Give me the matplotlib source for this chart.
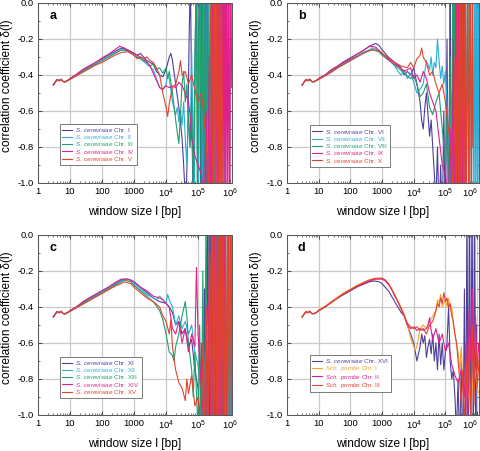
import matplotlib
matplotlib.use('Agg')
import matplotlib.pyplot as plt
import matplotlib.transforms as mtrans
from matplotlib.ticker import FixedLocator, LogLocator, NullFormatter, MultipleLocator

plt.rcParams['font.family'] = ['Liberation Sans', 'DejaVu Sans']
plt.rcParams['mathtext.fontset'] = 'custom'
plt.rcParams['mathtext.rm'] = 'Liberation Sans'
plt.rcParams['mathtext.it'] = 'Liberation Sans:italic'
plt.rcParams['axes.unicode_minus'] = False

# ---------------- data (log10 window size, correlation coefficient) ----------------
HEAD = [(0.48,-0.455),(0.54,-0.44),(0.60,-0.425),(0.66,-0.432),(0.72,-0.424),(0.78,-0.436),
        (0.84,-0.438),(0.90,-0.433),(0.95,-0.428)]

A1 = [(1.0,-0.42),(1.2,-0.40),(1.4,-0.37),(1.6,-0.35),(1.8,-0.33),(2.0,-0.31),(2.2,-0.29),(2.4,-0.27),(2.6,-0.25),(2.8,-0.26),(3.0,-0.28),(3.1,-0.29),(3.2,-0.28),(3.3,-0.30),(3.4,-0.32),(3.5,-0.33),(3.6,-0.34),(3.7,-0.38),(3.8,-0.40),(3.9,-0.41),(4.0,-0.37),(4.1,-0.30),(4.15,-0.28),(4.2,-0.32),(4.3,-0.45),(4.4,-0.58),(4.5,-0.75),(4.55,-0.9),(4.62,-1.15),(4.68,-0.7),(4.72,-0.2),(4.76,0.15),(4.80,-0.55),(4.85,-1.2),(4.90,-0.35),(4.95,0.2),(5.00,-0.9),(5.04,0.25),(5.08,-1.25),(5.12,0.3),(5.16,-1.3),(5.20,0.25),(5.24,-1.2),(5.28,0.3),(5.32,-1.3)]
A2 = [(1.0,-0.42),(1.2,-0.40),(1.4,-0.375),(1.6,-0.355),(1.8,-0.34),(2.0,-0.32),(2.2,-0.30),(2.4,-0.28),(2.6,-0.26),(2.8,-0.265),(3.0,-0.29),(3.2,-0.31),(3.4,-0.34),(3.6,-0.37),(3.7,-0.42),(3.8,-0.47),(3.9,-0.48),(4.0,-0.45),(4.05,-0.40),(4.1,-0.42),(4.2,-0.55),(4.3,-0.62),(4.35,-0.58),(4.4,-0.66),(4.45,-0.60),(4.5,-0.68),(4.55,-0.55),(4.6,-0.75),(4.65,-0.9),(4.7,-0.6),(4.75,-0.8),(4.8,-0.27),(4.84,-0.7),(4.88,-1.2),(4.92,-0.1),(4.96,0.2),(5.0,-1.1),(5.04,-0.3),(5.08,0.25),(5.12,-1.25),(5.16,0.1),(5.2,-1.2),(5.24,0.3),(5.28,-1.3),(5.32,0.2),(5.36,-1.2),(5.4,0.3),(5.44,-1.3),(5.48,0.25),(5.52,-1.25),(5.56,0.3),(5.6,-1.3),(5.64,0.3),(5.68,-1.2),(5.72,0.3),(5.76,-1.3),(5.8,0.3),(5.84,-1.3),(5.88,0.3)]
A3 = [(1.0,-0.42),(1.2,-0.40),(1.4,-0.38),(1.6,-0.36),(1.8,-0.34),(2.0,-0.32),(2.2,-0.30),(2.4,-0.28),(2.6,-0.26),(2.8,-0.265),(3.0,-0.29),(3.2,-0.31),(3.4,-0.33),(3.5,-0.35),(3.6,-0.34),(3.7,-0.37),(3.8,-0.36),(3.9,-0.39),(4.0,-0.36),(4.05,-0.42),(4.1,-0.38),(4.2,-0.50),(4.3,-0.65),(4.35,-0.72),(4.4,-0.78),(4.45,-0.62),(4.5,-0.45),(4.55,-0.38),(4.6,-0.55),(4.65,-0.45),(4.7,-0.65),(4.75,-0.8),(4.8,-0.55),(4.85,-1.1),(4.9,-0.4),(4.94,0.1),(4.98,-1.2),(5.02,-0.2),(5.06,0.2),(5.1,-1.25),(5.14,0.3),(5.18,-1.2),(5.22,0.25),(5.26,-1.3),(5.3,0.3),(5.34,-1.25),(5.38,0.3),(5.42,-1.3),(5.46,0.3),(5.5,-1.3)]
A4 = [(1.0,-0.42),(1.2,-0.395),(1.4,-0.37),(1.6,-0.35),(1.8,-0.33),(2.0,-0.305),(2.2,-0.285),(2.4,-0.26),(2.55,-0.24),(2.7,-0.25),(2.9,-0.27),(3.1,-0.29),(3.3,-0.31),(3.5,-0.35),(3.6,-0.39),(3.7,-0.43),(3.8,-0.47),(3.9,-0.48),(4.0,-0.46),(4.1,-0.47),(4.2,-0.46),(4.3,-0.47),(4.4,-0.44),(4.5,-0.46),(4.6,-0.50),(4.7,-0.55),(4.75,-0.62),(4.8,-0.75),(4.9,-0.85),(5.0,-0.9),(5.1,-0.95),(5.2,-1.1),(5.25,-0.6),(5.3,-1.2),(5.35,-0.3),(5.4,-1.2),(5.44,0.1),(5.48,-1.25),(5.52,0.2),(5.56,-1.3),(5.6,0.3),(5.63,-1.3),(5.66,0.3),(5.69,-1.3),(5.72,0.3),(5.75,-1.3),(5.78,0.3),(5.81,-1.3),(5.84,0.3),(5.87,-1.3),(5.9,0.3),(5.93,-1.3),(5.96,0.3),(5.99,-1.3),(6.02,0.3),(6.05,-0.47)]
A5 = [(1.0,-0.425),(1.2,-0.405),(1.4,-0.385),(1.6,-0.365),(1.8,-0.345),(2.0,-0.33),(2.2,-0.31),(2.4,-0.29),(2.6,-0.275),(2.8,-0.27),(3.0,-0.29),(3.1,-0.31),(3.2,-0.30),(3.3,-0.31),(3.4,-0.30),(3.5,-0.32),(3.6,-0.33),(3.7,-0.36),(3.8,-0.40),(3.9,-0.50),(4.0,-0.58),(4.05,-0.63),(4.1,-0.56),(4.2,-0.47),(4.3,-0.45),(4.4,-0.38),(4.45,-0.32),(4.5,-0.40),(4.6,-0.38),(4.7,-0.45),(4.8,-0.40),(4.9,-0.48),(5.0,-0.55),(5.1,-0.5),(5.2,-0.65),(5.3,-0.9),(5.34,-1.2),(5.38,-0.2),(5.42,0.2),(5.46,-1.25),(5.5,0.25),(5.54,-1.3),(5.58,0.3),(5.62,-1.3),(5.66,0.3),(5.7,-1.3),(5.74,0.3),(5.76,-1.3)]

B1 = [(1.0,-0.42),(1.2,-0.40),(1.4,-0.375),(1.6,-0.35),(1.8,-0.325),(2.0,-0.305),(2.2,-0.285),(2.4,-0.265),(2.6,-0.24),(2.8,-0.225),(2.9,-0.235),(3.0,-0.26),(3.2,-0.30),(3.4,-0.33),(3.6,-0.36),(3.7,-0.40),(3.8,-0.38),(3.9,-0.40),(4.0,-0.36),(4.1,-0.45),(4.2,-0.55),(4.25,-0.65),(4.3,-0.70),(4.35,-0.58),(4.4,-0.50),(4.45,-0.62),(4.5,-0.74),(4.55,-0.65),(4.6,-0.8),(4.65,-0.95),(4.7,-1.1),(4.75,-0.8),(4.8,-1.2),(4.85,-0.9),(4.9,-1.25),(4.95,-0.6),(5.0,-1.3),(5.05,-0.2),(5.1,-1.3),(5.15,0.2),(5.2,-1.3),(5.25,0.3),(5.3,-1.3),(5.35,0.3),(5.4,-1.3)]
B2 = [(1.0,-0.42),(1.2,-0.40),(1.4,-0.38),(1.6,-0.355),(1.8,-0.335),(2.0,-0.315),(2.2,-0.295),(2.4,-0.275),(2.6,-0.26),(2.7,-0.25),(2.8,-0.255),(3.0,-0.28),(3.2,-0.31),(3.4,-0.35),(3.5,-0.38),(3.6,-0.40),(3.7,-0.37),(3.8,-0.42),(3.9,-0.39),(4.0,-0.44),(4.1,-0.50),(4.2,-0.48),(4.3,-0.45),(4.4,-0.32),(4.5,-0.37),(4.55,-0.30),(4.6,-0.40),(4.65,-0.33),(4.7,-0.36),(4.75,-0.20),(4.8,-0.32),(4.85,-0.42),(4.9,-0.35),(4.95,-0.45),(5.0,-0.38),(5.05,-0.55),(5.1,-0.8),(5.15,-1.1),(5.2,-0.5),(5.25,-1.2),(5.3,0.1),(5.34,-1.2),(5.38,0.2),(5.42,-1.3),(5.46,0.3),(5.5,-1.3),(5.54,0.3),(5.58,-1.3),(5.62,0.3),(5.66,-1.3),(5.7,0.3),(5.74,-1.3),(5.78,0.3),(5.82,-1.3),(5.86,0.3),(5.9,-1.3),(5.93,0.3),(5.96,-1.3),(5.99,0.3),(6.02,-1.3),(6.05,0.3),(6.08,-1.3)]
B3 = [(1.0,-0.42),(1.2,-0.405),(1.4,-0.38),(1.6,-0.36),(1.8,-0.34),(2.0,-0.32),(2.2,-0.30),(2.4,-0.28),(2.6,-0.265),(2.7,-0.26),(2.9,-0.27),(3.0,-0.29),(3.3,-0.33),(3.5,-0.36),(3.7,-0.39),(3.9,-0.42),(4.0,-0.40),(4.1,-0.45),(4.2,-0.52),(4.3,-0.50),(4.4,-0.45),(4.5,-0.58),(4.6,-0.62),(4.7,-0.55),(4.8,-0.50),(4.9,-0.70),(5.0,-0.9),(5.05,-0.6),(5.1,-1.1),(5.15,-0.3),(5.2,-1.2),(5.24,0.2),(5.27,-1.2),(5.3,0.3),(5.33,-1.3),(5.36,0.3),(5.39,-1.3),(5.42,0.3),(5.45,-1.3),(5.5,0.3),(5.55,-1.3),(5.6,0.3),(5.65,-1.3),(5.7,0.3),(5.75,-1.3)]
B4 = [(1.0,-0.42),(1.2,-0.40),(1.4,-0.37),(1.6,-0.35),(1.8,-0.33),(2.0,-0.31),(2.2,-0.285),(2.4,-0.265),(2.6,-0.24),(2.8,-0.245),(3.0,-0.28),(3.3,-0.33),(3.5,-0.35),(3.7,-0.38),(3.9,-0.36),(4.0,-0.42),(4.1,-0.40),(4.2,-0.44),(4.3,-0.38),(4.4,-0.42),(4.5,-0.50),(4.6,-0.55),(4.7,-0.60),(4.8,-0.75),(4.9,-0.9),(5.0,-0.95),(5.1,-1.1),(5.15,-0.7),(5.2,-1.2),(5.25,-0.2),(5.3,-1.3),(5.34,0.2),(5.38,-1.3),(5.42,0.3),(5.46,-1.3),(5.5,0.3),(5.54,-1.3),(5.58,0.3),(5.62,-1.3),(5.64,-0.5)]
B5 = [(1.0,-0.425),(1.2,-0.405),(1.4,-0.385),(1.6,-0.36),(1.8,-0.34),(2.0,-0.32),(2.2,-0.30),(2.4,-0.28),(2.6,-0.265),(2.7,-0.26),(2.9,-0.265),(3.0,-0.28),(3.3,-0.32),(3.5,-0.34),(3.6,-0.35),(3.8,-0.36),(3.9,-0.33),(4.0,-0.36),(4.1,-0.31),(4.2,-0.29),(4.25,-0.25),(4.3,-0.30),(4.4,-0.33),(4.5,-0.40),(4.6,-0.38),(4.7,-0.45),(4.8,-0.50),(4.9,-0.45),(5.0,-0.55),(5.1,-0.70),(5.2,-0.9),(5.25,-1.1),(5.3,-0.3),(5.34,-1.2),(5.38,0.2),(5.42,-1.3),(5.46,0.3),(5.5,-1.3),(5.54,0.3),(5.58,-1.3),(5.62,0.3),(5.66,-1.3),(5.7,0.3),(5.74,-1.3),(5.78,0.3),(5.82,-1.3),(5.85,0.3),(5.87,-0.8)]

C1 = [(1.0,-0.42),(1.2,-0.40),(1.4,-0.375),(1.6,-0.35),(1.8,-0.33),(2.0,-0.31),(2.2,-0.29),(2.4,-0.27),(2.6,-0.25),(2.75,-0.245),(2.9,-0.25),(3.0,-0.26),(3.2,-0.29),(3.4,-0.32),(3.6,-0.35),(3.8,-0.37),(4.0,-0.38),(4.1,-0.40),(4.2,-0.43),(4.3,-0.50),(4.4,-0.48),(4.5,-0.55),(4.6,-0.52),(4.7,-0.62),(4.8,-0.58),(4.9,-0.75),(5.0,-0.85),(5.05,-1.1),(5.1,-0.6),(5.15,-1.2),(5.2,-0.3),(5.25,-1.25),(5.3,0.1),(5.35,-1.3),(5.4,0.2),(5.44,-1.3),(5.48,0.3),(5.52,-1.3),(5.56,0.3),(5.6,-1.3),(5.64,0.3),(5.68,-1.3),(5.72,0.3),(5.76,-1.3),(5.8,0.3),(5.82,-1.3)]
C2 = [(1.0,-0.42),(1.2,-0.40),(1.4,-0.38),(1.6,-0.355),(1.8,-0.335),(2.0,-0.315),(2.2,-0.295),(2.4,-0.275),(2.6,-0.255),(2.8,-0.245),(2.9,-0.25),(3.0,-0.27),(3.2,-0.30),(3.4,-0.33),(3.6,-0.35),(3.7,-0.36),(3.8,-0.34),(3.9,-0.36),(4.0,-0.38),(4.05,-0.33),(4.1,-0.36),(4.2,-0.40),(4.3,-0.50),(4.4,-0.45),(4.5,-0.52),(4.6,-0.48),(4.7,-0.55),(4.8,-0.50),(4.9,-0.65),(5.0,-0.72),(5.1,-0.9),(5.2,-1.1),(5.25,-0.5),(5.3,-1.2),(5.35,0.1),(5.4,-1.3),(5.44,0.2),(5.48,-1.3),(5.52,0.3),(5.56,-1.3),(5.6,0.3),(5.64,-1.3),(5.68,0.3),(5.72,-1.3),(5.76,0.3),(5.8,-1.3),(5.84,0.3),(5.88,-1.3),(5.92,0.3),(5.96,-1.3),(5.99,0.3),(6.02,-1.3),(6.05,0.3),(6.08,-1.3)]
C3 = [(1.0,-0.42),(1.2,-0.40),(1.4,-0.38),(1.6,-0.36),(1.8,-0.34),(2.0,-0.32),(2.2,-0.30),(2.4,-0.28),(2.6,-0.26),(2.7,-0.25),(2.9,-0.26),(3.0,-0.28),(3.2,-0.31),(3.4,-0.34),(3.6,-0.37),(3.8,-0.42),(3.9,-0.47),(4.0,-0.55),(4.1,-0.65),(4.2,-0.67),(4.25,-0.70),(4.3,-0.62),(4.4,-0.55),(4.5,-0.45),(4.6,-0.37),(4.65,-0.45),(4.7,-0.60),(4.8,-0.75),(4.85,-0.9),(4.9,-0.65),(5.0,-1.1),(5.05,-0.5),(5.1,-1.2),(5.15,-0.2),(5.2,-1.3),(5.25,0.2),(5.3,-1.3),(5.35,0.3),(5.4,-1.3),(5.45,0.3),(5.5,-1.3),(5.55,0.3),(5.6,-1.3),(5.65,0.3),(5.7,-1.3),(5.75,0.3),(5.8,-1.3),(5.85,0.3),(5.9,-1.3),(5.95,0.3),(5.97,-0.9)]
C4 = [(1.0,-0.42),(1.2,-0.40),(1.4,-0.37),(1.6,-0.35),(1.8,-0.33),(2.0,-0.31),(2.2,-0.29),(2.4,-0.265),(2.6,-0.245),(2.8,-0.245),(3.0,-0.26),(3.2,-0.29),(3.4,-0.31),(3.6,-0.34),(3.8,-0.35),(3.9,-0.36),(4.0,-0.38),(4.1,-0.40),(4.2,-0.52),(4.3,-0.55),(4.4,-0.48),(4.5,-0.60),(4.6,-0.52),(4.7,-0.65),(4.8,-0.55),(4.9,-0.62),(4.95,-0.18),(5.0,-0.55),(5.1,-0.85),(5.2,-1.1),(5.25,-0.4),(5.3,-1.2),(5.35,0.1),(5.4,-1.3),(5.44,0.2),(5.48,-1.3),(5.52,0.3),(5.56,-1.3),(5.6,0.3),(5.64,-1.3),(5.68,0.3),(5.72,-1.3),(5.76,0.3),(5.8,-1.3),(5.84,0.3),(5.88,-1.3),(5.89,-0.6)]
C5 = [(1.0,-0.425),(1.2,-0.405),(1.4,-0.385),(1.6,-0.365),(1.8,-0.345),(2.0,-0.325),(2.2,-0.305),(2.4,-0.285),(2.6,-0.27),(2.7,-0.26),(2.9,-0.27),(3.0,-0.29),(3.2,-0.32),(3.4,-0.35),(3.6,-0.37),(3.8,-0.40),(3.9,-0.45),(4.0,-0.48),(4.1,-0.55),(4.15,-0.47),(4.2,-0.62),(4.3,-0.75),(4.4,-0.82),(4.5,-0.85),(4.6,-0.92),(4.65,-0.8),(4.7,-0.88),(4.8,-0.78),(4.9,-0.95),(5.0,-0.9),(5.1,-1.1),(5.15,-0.6),(5.2,-1.2),(5.25,-0.4),(5.3,-1.3),(5.37,-0.10),(5.42,-1.3),(5.46,0.2),(5.5,-1.3),(5.54,0.3),(5.58,-1.3),(5.62,0.3),(5.66,-1.3),(5.7,0.3),(5.74,-1.3),(5.78,0.3),(5.82,-1.3),(5.86,0.3),(5.9,-1.3),(5.94,0.3),(5.98,-1.3),(6.02,0.3),(6.05,-1.3),(6.08,0.3)]

D1 = [(1.0,-0.42),(1.2,-0.40),(1.4,-0.37),(1.6,-0.35),(1.8,-0.33),(2.0,-0.31),(2.2,-0.29),(2.4,-0.275),(2.6,-0.26),(2.75,-0.255),(2.9,-0.26),(3.0,-0.27),(3.1,-0.29),(3.2,-0.31),(3.3,-0.34),(3.4,-0.37),(3.5,-0.40),(3.6,-0.43),(3.7,-0.45),(3.8,-0.50),(3.9,-0.55),(4.0,-0.60),(4.05,-0.65),(4.1,-0.70),(4.15,-0.66),(4.2,-0.62),(4.25,-0.55),(4.3,-0.60),(4.35,-0.56),(4.4,-0.68),(4.45,-0.62),(4.5,-0.58),(4.55,-0.66),(4.6,-0.55),(4.65,-0.70),(4.7,-0.60),(4.75,-0.75),(4.8,-0.55),(4.85,-0.72),(4.9,-0.60),(4.95,-0.75),(5.0,-0.65),(5.05,-0.60),(5.1,-0.40),(5.15,-0.70),(5.2,-0.80),(5.25,-0.75),(5.3,-0.9),(5.35,-1.1),(5.4,-0.8),(5.45,-1.2),(5.5,-0.7),(5.55,-1.3),(5.6,-0.3),(5.64,-1.3),(5.68,0.2),(5.72,-1.3),(5.76,0.3),(5.8,-1.3),(5.84,0.3),(5.88,-1.3),(5.92,0.3),(5.96,-1.3),(5.98,-0.5)]
D2 = [(1.0,-0.415),(1.2,-0.395),(1.4,-0.37),(1.6,-0.345),(1.8,-0.32),(2.0,-0.30),(2.2,-0.28),(2.4,-0.265),(2.6,-0.25),(2.8,-0.245),(3.0,-0.24),(3.1,-0.25),(3.2,-0.27),(3.3,-0.30),(3.4,-0.33),(3.5,-0.37),(3.6,-0.40),(3.7,-0.44),(3.8,-0.50),(3.9,-0.57),(4.0,-0.62),(4.05,-0.64),(4.1,-0.62),(4.15,-0.57),(4.2,-0.52),(4.3,-0.50),(4.4,-0.52),(4.5,-0.48),(4.6,-0.45),(4.7,-0.42),(4.75,-0.36),(4.8,-0.38),(4.85,-0.33),(4.9,-0.40),(5.0,-0.36),(5.05,-0.40),(5.1,-0.35),(5.15,-0.42),(5.2,-0.40),(5.25,-0.50),(5.3,-0.55),(5.35,-0.60),(5.4,-0.65),(5.45,-0.75),(5.5,-0.62),(5.55,-0.85),(5.6,-0.9),(5.65,-0.7),(5.7,-0.95),(5.75,-0.85),(5.8,-1.0),(5.9,-0.7),(6.0,-0.85),(6.1,-0.9)]
D3 = [(1.0,-0.42),(1.2,-0.40),(1.4,-0.375),(1.6,-0.35),(1.8,-0.325),(2.0,-0.305),(2.2,-0.285),(2.4,-0.27),(2.6,-0.255),(2.8,-0.245),(3.0,-0.245),(3.1,-0.255),(3.2,-0.275),(3.3,-0.30),(3.4,-0.34),(3.5,-0.37),(3.6,-0.41),(3.7,-0.45),(3.8,-0.50),(3.9,-0.52),(4.0,-0.51),(4.1,-0.53),(4.2,-0.52),(4.3,-0.53),(4.4,-0.52),(4.45,-0.50),(4.5,-0.46),(4.55,-0.53),(4.6,-0.58),(4.7,-0.52),(4.8,-0.60),(4.9,-0.55),(5.0,-0.65),(5.1,-0.60),(5.2,-0.72),(5.3,-0.78),(5.4,-0.82),(5.5,-0.75),(5.6,-0.9),(5.65,-0.6),(5.7,-1.1),(5.75,-0.4),(5.8,-0.7),(5.85,-0.3),(5.9,-0.8),(5.95,-0.45),(6.0,-0.75),(6.05,-0.6),(6.1,-0.7)]
D4 = [(1.0,-0.42),(1.2,-0.40),(1.4,-0.375),(1.6,-0.35),(1.8,-0.325),(2.0,-0.305),(2.2,-0.285),(2.4,-0.265),(2.6,-0.25),(2.8,-0.24),(3.0,-0.24),(3.1,-0.25),(3.2,-0.27),(3.3,-0.30),(3.4,-0.335),(3.5,-0.37),(3.6,-0.41),(3.7,-0.45),(3.8,-0.49),(3.9,-0.51),(4.0,-0.52),(4.1,-0.51),(4.2,-0.53),(4.3,-0.52),(4.4,-0.55),(4.5,-0.50),(4.6,-0.48),(4.7,-0.42),(4.75,-0.38),(4.8,-0.40),(4.85,-0.35),(4.9,-0.38),(4.95,-0.32),(5.0,-0.37),(5.05,-0.35),(5.1,-0.40),(5.15,-0.38),(5.2,-0.45),(5.25,-0.48),(5.3,-0.55),(5.35,-0.60),(5.4,-0.70),(5.45,-0.80),(5.5,-0.95),(5.55,-0.75),(5.6,-1.1),(5.65,-0.7),(5.7,-0.9),(5.75,-0.6),(5.8,-1.05),(5.85,-0.5),(5.9,-0.95),(5.95,-0.55),(6.0,-0.85),(6.1,-0.6)]

PURPLE, CYAN, GREEN, MAGENTA, RED, ORANGE = '#4e3f9c', '#2aaed6', '#1f9e6e', '#e0208a', '#e2432e', '#f5a52a'

PANELS = [
    ('a', [A1, A2, A3, A4, A5], [PURPLE, CYAN, GREEN, MAGENTA, RED],
     [r'$\it{S.\ cerevisiae}$ Chr. I', r'$\it{S.\ cerevisiae}$ Chr. II', r'$\it{S.\ cerevisiae}$ Chr. III',
      r'$\it{S.\ cerevisiae}$ Chr. IV', r'$\it{S.\ cerevisiae}$ Chr. V']),
    ('b', [B1, B2, B3, B4, B5], [PURPLE, CYAN, GREEN, MAGENTA, RED],
     [r'$\it{S.\ cerevisiae}$ Chr. VI', r'$\it{S.\ cerevisiae}$ Chr. VII', r'$\it{S.\ cerevisiae}$ Chr. VIII',
      r'$\it{S.\ cerevisiae}$ Chr. IX', r'$\it{S.\ cerevisiae}$ Chr. X']),
    ('c', [C1, C2, C3, C4, C5], [PURPLE, CYAN, GREEN, MAGENTA, RED],
     [r'$\it{S.\ cerevisiae}$ Chr. XI', r'$\it{S.\ cerevisiae}$ Chr. XII', r'$\it{S.\ cerevisiae}$ Chr. XIII',
      r'$\it{S.\ cerevisiae}$ Chr. XIV', r'$\it{S.\ cerevisiae}$ Chr. XV']),
    ('d', [D1, D2, D3, D4], [PURPLE, ORANGE, MAGENTA, RED],
     [r'$\it{S.\ cerevisiae}$ Chr. XVI', r'$\it{Sch.\ pombe}$ Chr. I', r'$\it{Sch.\ pombe}$ Chr. II',
      r'$\it{Sch.\ pombe}$ Chr. III']),
]

X_TICKS = [1, 10, 100, 1000, 1e4, 1e5, 1e6]
X_TICKLABELS = ['1', '10', '100', '1000', r'$10^4$', r'$10^5$', r'$10^6$']
Y_TICKS = [0.0, -0.2, -0.4, -0.6, -0.8, -1.0]
Y_TICKLABELS = ['0.0', '-0.2', '-0.4', '-0.6', '-0.8', '-1.0']

# ---------------- layout ----------------
W, H = 480, 451
POS = {'a': (38, 3, 194, 180), 'b': (287, 3, 192, 180),
       'c': (38, 235, 194, 180), 'd': (287, 235, 192, 180)}
LEG = {'a': (0.113, 0.10), 'b': (0.12, 0.09), 'c': (0.113, 0.094), 'd': (0.12, 0.128)}

fig = plt.figure(figsize=(W / 100, H / 100), dpi=100)
for letter, series, colors, labels in PANELS:
    x0, y0, w, h = POS[letter]
    ax = fig.add_axes([x0 / W, 1 - (y0 + h) / H, w / W, h / H])
    for s, c, lab in zip(series, colors, labels):
        pts = HEAD + s
        xs = [10 ** p[0] for p in pts]
        ys = [p[1] for p in pts]
        ax.plot(xs, ys, color=c, lw=0.8, label=lab)
    ax.set_xscale('log')
    ax.set_xlim(1, 10 ** 6.06)
    ax.set_ylim(-1.0, 0.0)
    ax.xaxis.set_major_locator(FixedLocator(X_TICKS))
    ax.set_xticklabels(X_TICKLABELS)
    ax.xaxis.set_minor_locator(LogLocator(base=10, subs=[2, 3, 4, 5, 6, 7, 8, 9], numticks=20))
    ax.xaxis.set_minor_formatter(NullFormatter())
    ax.set_yticks(Y_TICKS)
    ax.set_yticklabels(Y_TICKLABELS)
    ax.yaxis.set_minor_locator(MultipleLocator(0.1))
    ax.tick_params(which='both', direction='in', top=True, right=True, labelsize=6.8, colors='#333333',
                   labelcolor='black')
    ax.tick_params(which='major', length=3, width=0.6, pad=3)
    ax.tick_params(which='minor', length=1.6, width=0.5)
    ax.grid(True, which='major', color='#c9c9c9', lw=0.9)
    ax.set_axisbelow(True)
    for sp in ax.spines.values():
        sp.set_color('#555555')
        sp.set_linewidth(0.7)
    if letter in ('b', 'd'):
        lab6 = ax.get_xticklabels()[-1]
        lab6.set_transform(lab6.get_transform() + mtrans.ScaledTranslation(-7 / 100, 0, fig.dpi_scale_trans))
    ax.set_xlabel('window size l [bp]', fontsize=8.6)
    ax.set_ylabel('correlation coefficient δ(l)', fontsize=8.6)
    ax.xaxis.set_label_coords(0.5, -0.125)
    ax.yaxis.set_label_coords(-0.13, 0.54)
    ax.text(0.077, 0.93, letter, transform=ax.transAxes, fontsize=9, fontweight='bold',
            ha='center', va='center')
    leg = ax.legend(loc='lower left', bbox_to_anchor=LEG[letter], fontsize=4.5, frameon=True,
                    fancybox=False, edgecolor='#666666', framealpha=1, handlelength=1.6,
                    handletextpad=0.5, labelspacing=-0.12, borderpad=0.35, borderaxespad=0,
                    labelcolor='linecolor')
    leg.get_frame().set_linewidth(0.6)

fig.savefig('out.png', dpi=100)
